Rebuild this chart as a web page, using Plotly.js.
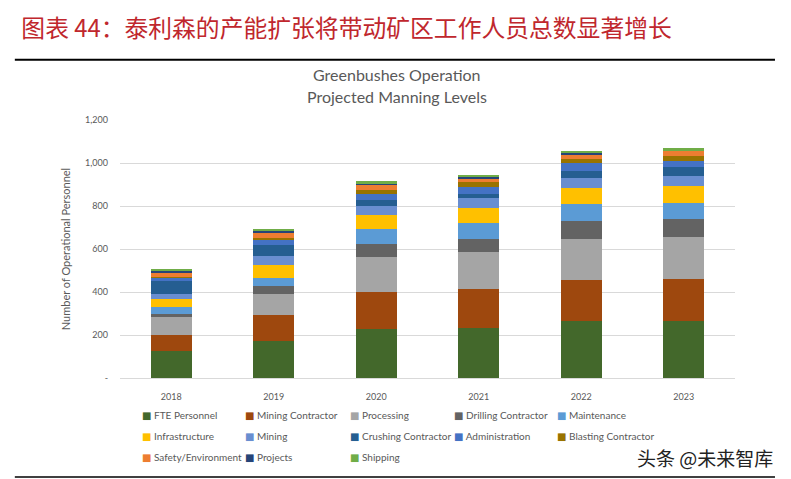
<!DOCTYPE html>
<html>
<head>
<meta charset="utf-8">
<script src="https://cdn.plot.ly/plotly-3.0.1.min.js"></script>
<style>html,body{margin:0;padding:0;background:#fff;}#chart{width:791px;height:479px;}</style>
</head>
<body>
<div id="chart"></div>
<script>
// ---- data ----
const years = ['2018', '2019', '2020', '2021', '2022', '2023'];
const ftePersonnel       = [125, 172, 230, 234, 265, 265];
const miningContractor   = [73, 120, 170, 178, 192, 197];
const processing         = [88, 101, 163, 174, 191, 192];
const drillingContractor = [13, 36, 59, 61, 82, 84];
const maintenance        = [32, 38, 69, 75, 81, 78];
const infrastructure     = [38, 60, 66, 69, 74, 77];
const mining             = [22, 40, 45, 46, 46, 48];
const crushingContractor = [60, 50, 24, 20, 34, 39];
const administration     = [18, 28, 32, 31, 34, 31];
const blastingContractor = [3, 6, 18, 22, 20, 21];
const safetyEnvironment  = [18, 28, 25, 20, 22, 25];
const projects           = [12, 8, 5, 6, 6, 3];
const shipping           = [7, 6, 9, 10, 10, 8];

const seriesNames = ['FTE Personnel', 'Mining Contractor', 'Processing', 'Drilling Contractor', 'Maintenance',
  'Infrastructure', 'Mining', 'Crushing Contractor', 'Administration', 'Blasting Contractor',
  'Safety/Environment', 'Projects', 'Shipping'];
const seriesValues = [ftePersonnel, miningContractor, processing, drillingContractor, maintenance,
  infrastructure, mining, crushingContractor, administration, blastingContractor,
  safetyEnvironment, projects, shipping];
const yTickVals = [0, 200, 400, 600, 800, 1000, 1200];
const yTickText = ['-', '200', '400', '600', '800', '1,000', '1,200'];

// ---- styles ----
const colors = ['#43682B', '#9E480E', '#A5A5A5', '#636363', '#5B9BD5', '#FFC000', '#698ED0',
  '#255E91', '#4472C4', '#997300', '#ED7D31', '#264478', '#70AD47'];
const FONT = 'Lato, "Liberation Sans", sans-serif';

const traces = seriesNames.map((name, i) => ({
  type: 'bar',
  name: name,
  x: years,
  y: seriesValues[i],
  marker: {color: colors[i], line: {width: 0}},
  showlegend: false,
  hoverinfo: 'x+y+name'
}));

// Excel-style legend: 5 columns x 3 rows, drawn as text entries with a coloured square
const legendColX = [0.0325, 0.2, 0.371, 0.54, 0.707];
const legendRowY = [-0.1436, -0.2251, -0.3066];
const legendAnnotations = seriesNames.map((name, i) => ({
  text: '<span style="color:' + colors[i] + '; font-family:\'DejaVu Sans\'">■</span> ' + name,
  xref: 'paper', yref: 'paper',
  x: legendColX[i % 5], y: legendRowY[Math.floor(i / 5)],
  xanchor: 'left', yanchor: 'middle', showarrow: false,
  font: {family: FONT, size: 10, color: '#595959'}
}));

const layout = {
  width: 791, height: 479,
  margin: {l: 120, r: 56, t: 120, b: 101, pad: 0},
  paper_bgcolor: '#ffffff', plot_bgcolor: '#ffffff',
  barmode: 'stack', bargap: 0.6,
  showlegend: false,
  font: {family: FONT, color: '#595959'},
  title: {
    text: '图表 44：泰利森的产能扩张将带动矿区工作人员总数显著增长',
    font: {family: '"Noto Sans CJK SC", sans-serif', size: 23.8, color: '#C0272D'},
    x: 0.027, xref: 'container', xanchor: 'left',
    y: 0.941, yref: 'container', yanchor: 'middle'
  },
  xaxis: {
    type: 'category', showgrid: false, zeroline: false,
    showline: true, linecolor: '#d9d9d9', linewidth: 1,
    ticks: '', ticklabelstandoff: 10,
    tickfont: {family: FONT, size: 9, color: '#595959'}
  },
  yaxis: {
    range: [0, 1200], tickvals: yTickVals, ticktext: yTickText,
    showgrid: true, gridcolor: '#d9d9d9', gridwidth: 1,
    zeroline: false, showline: false, ticks: '', ticklabelstandoff: 11,
    tickfont: {family: FONT, size: 9, color: '#595959'},
    title: {text: 'Number of Operational Personnel', standoff: 12,
      font: {family: FONT, size: 11, color: '#595959'}}
  },
  annotations: [
    {text: 'Greenbushes Operation', xref: 'paper', yref: 'paper', x: 0.45, y: 1.176,
      xanchor: 'center', yanchor: 'middle', showarrow: false,
      font: {family: FONT, size: 16, color: '#595959'}},
    {text: 'Projected Manning Levels', xref: 'paper', yref: 'paper', x: 0.45, y: 1.09,
      xanchor: 'center', yanchor: 'middle', showarrow: false,
      font: {family: FONT, size: 16, color: '#595959'}},
    {text: '头条 @未来智库', xref: 'paper', yref: 'paper', x: 1.065, y: -0.31,
      xanchor: 'right', yanchor: 'middle', showarrow: false,
      font: {family: '"Noto Sans CJK SC", sans-serif', size: 19, color: '#222222'}}
  ].concat(legendAnnotations),
  shapes: [
    {type: 'line', xref: 'paper', yref: 'paper', x0: -0.171, x1: 1.065, y0: 1.234, y1: 1.234,
      line: {color: '#000000', width: 2}},
    {type: 'line', xref: 'paper', yref: 'paper', x0: -0.171, x1: 1.065, y0: -0.384, y1: -0.384,
      line: {color: '#000000', width: 1.5}}
  ]
};

Plotly.newPlot('chart', traces, layout, {displayModeBar: false, responsive: false});
</script>
</body>
</html>
